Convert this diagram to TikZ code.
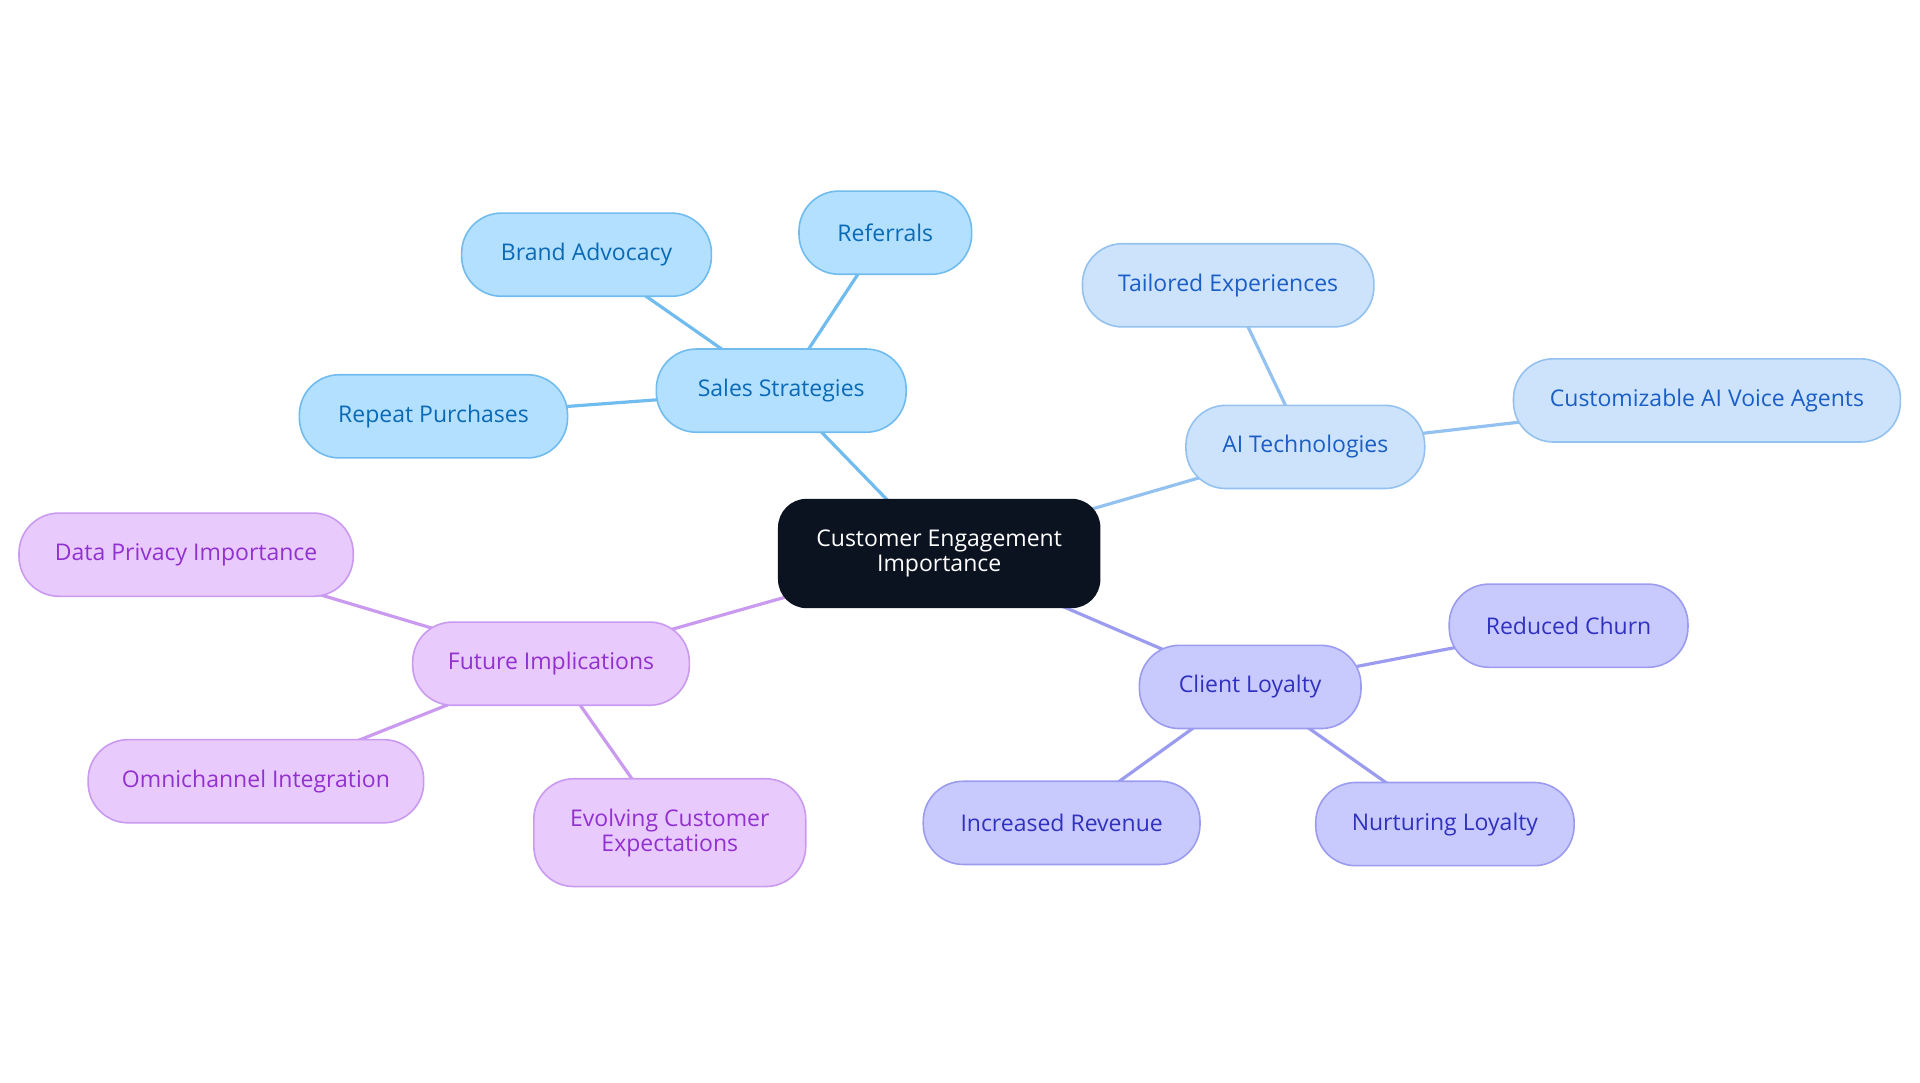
\documentclass[tikz,border=0pt]{standalone}
\usepackage{fontspec}
\setmainfont{Open Sans}
\usetikzlibrary{backgrounds}
\begin{document}
\begin{tikzpicture}[x=0.6122pt,y=-0.6122pt,
 base/.style={rounded corners=20pt,draw,line width=0.8pt,minimum height=41.6pt,align=center,font=\fontsize{11.5}{12.5}\selectfont,inner sep=2pt},
 w/.style={minimum width={#1*0.6122pt}},
 ss/.style={base,fill=sf,draw=sd,text=st},
 ai/.style={base,fill=af,draw=ad,text=at},
 cl/.style={base,fill=cf,draw=cd,text=ct},
 fu/.style={base,fill=ff,draw=fd,text=ft},
 ls/.style={sd,line width=1.6pt},
 la/.style={ad,line width=1.6pt},
 lc/.style={cd,line width=1.6pt},
 lf/.style={fd,line width=1.6pt}]
\definecolor{sf}{HTML}{B3E0FF}\definecolor{sd}{HTML}{70BCEF}\definecolor{st}{HTML}{0B6AB5}
\definecolor{af}{HTML}{CDE3FB}\definecolor{ad}{HTML}{94C2F0}\definecolor{at}{HTML}{1A5EC6}
\definecolor{cf}{HTML}{C8CAFE}\definecolor{cd}{HTML}{9B9CF0}\definecolor{ct}{HTML}{3131BF}
\definecolor{ff}{HTML}{E8CAFD}\definecolor{fd}{HTML}{C99AF0}\definecolor{ft}{HTML}{9231CF}
\useasboundingbox (0,0) rectangle (1568,884);
\node[base,w=262,minimum height=53.9pt,fill={rgb,255:red,11;green,19;blue,32},draw={rgb,255:red,11;green,19;blue,32},text=white,rounded corners=14pt] (c) at (767,452) {Customer Engagement\\Importance};
\node[ss,w=204] (s) at (638,319) {Sales Strategies};
\node[ss,w=204] (s1) at (479,208) {Brand Advocacy};
\node[ss,w=141] (s2) at (723,190) {Referrals};
\node[ss,w=219] (s3) at (354,340) {Repeat Purchases};
\node[ai,w=195] (a) at (1066,365) {AI Technologies};
\node[ai,w=238] (a1) at (1003,233) {Tailored Experiences};
\node[ai,w=316] (a2) at (1394,327) {Customizable AI Voice Agents};
\node[cl,w=181] (k) at (1021,561) {Client Loyalty};
\node[cl,w=195] (k1) at (1281,511) {Reduced Churn};
\node[cl,w=226] (k2) at (867,672) {Increased Revenue};
\node[cl,w=211] (k3) at (1180,673) {Nurturing Loyalty};
\node[fu,w=226] (f) at (450,542) {Future Implications};
\node[fu,w=273] (f1) at (152,453) {Data Privacy Importance};
\node[fu,w=274] (f2) at (209,638) {Omnichannel Integration};
\node[fu,w=222,minimum height=53.9pt] (f3) at (547,680) {Evolving Customer\\Expectations};
\begin{scope}[on background layer]
\draw[ls] (c.center) -- (s.center); \draw[ls] (s.center) -- (s1.center); \draw[ls] (s.center) -- (s2.center); \draw[ls] (s.center) -- (s3.center);
\draw[la] (c.center) -- (a.center); \draw[la] (a.center) -- (a1.center); \draw[la] (a.center) -- (a2.center);
\draw[lc] (c.center) -- (k.center); \draw[lc] (k.center) -- (k1.center); \draw[lc] (k.center) -- (k2.center); \draw[lc] (k.center) -- (k3.center);
\draw[lf] (c.center) -- (f.center); \draw[lf] (f.center) -- (f1.center); \draw[lf] (f.center) -- (f2.center); \draw[lf] (f.center) -- (f3.center);
\end{scope}
\end{tikzpicture}
\end{document}
